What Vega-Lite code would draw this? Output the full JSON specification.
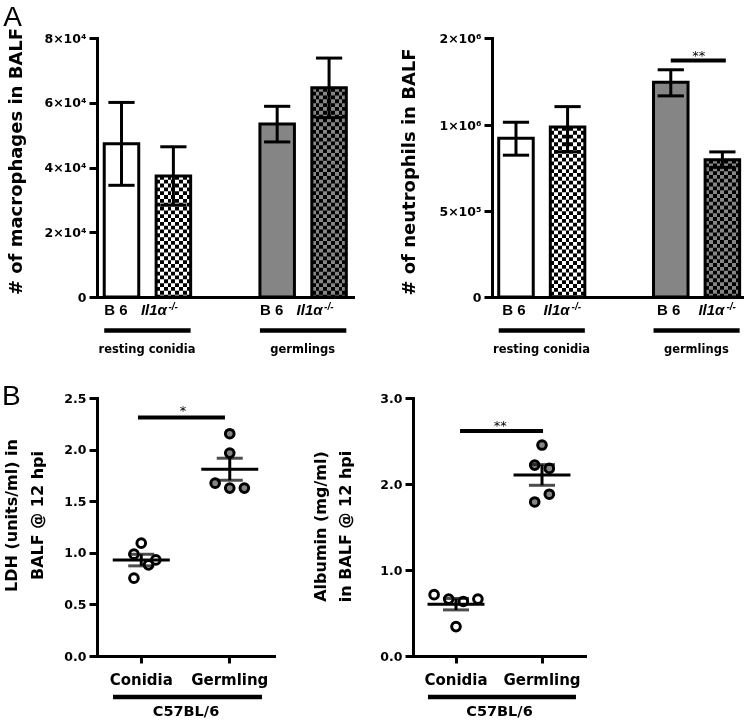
{
  "$schema": "https://vega.github.io/schema/vega-lite/v6.json",
  "autosize": {"type": "none"},
  "padding": {"left": 97, "top": 38, "right": 0, "bottom": 65},
  "width": 653,
  "height": 618,
  "background": "white",
  "config": {
    "view": {"stroke": null},
    "font": "DejaVu Sans",
    "axis": {"domainColor": "black", "domainWidth": 3, "domainCap": "square", "tickColor": "black", "tickWidth": 3, "tickSize": 8, "labelColor": "black", "labelFont": "DejaVu Sans", "labelFontWeight": "bold", "labelFontSize": 12.5, "labelPadding": 3, "labelOverlap": false, "titleColor": "black", "titleFont": "DejaVu Sans", "titleFontWeight": "bold", "grid": false}
  },
  "resolve": {"scale": {"x": "independent", "y": "independent", "xOffset": "independent"}, "axis": {"x": "independent", "y": "independent"}},
  "layer": [
    {
      "data": {"values": [
        {"bar": "rc-B6", "condition": "resting conidia", "genotype": "B6", "mean": 47300, "lo": 34500, "hi": 60100},
        {"bar": "rc-Il1a", "condition": "resting conidia", "genotype": "Il1α-/-", "mean": 37400, "lo": 28400, "hi": 46400},
        {"bar": "gm-B6", "condition": "germlings", "genotype": "B6", "mean": 53400, "lo": 47900, "hi": 58900},
        {"bar": "gm-Il1a", "condition": "germlings", "genotype": "Il1α-/-", "mean": 64600, "lo": 55400, "hi": 73800}
      ]},
      "layer": [
        {
          "mark": {"type": "rect", "strokeWidth": 0},
          "encoding": {
            "x": {"field": "bar", "type": "nominal", "bandPosition": 0, "scale": {"domain": ["rc-B6", "rc-Il1a", "gap", "gm-B6", "gm-Il1a"], "range": [0, 256], "paddingInner": 0.335, "paddingOuter": 0.134, "align": 0.52}, "axis": {"orient": "bottom", "offset": -359, "title": null, "labels": false, "ticks": false}},
            "x2": {"field": "bar", "bandPosition": 1},
            "y": {"field": "mean", "type": "quantitative", "scale": {"domain": [0, 80000], "range": [259, 0], "nice": false}, "axis": {"orient": "left", "values": [0, 20000, 40000, 60000, 80000], "labelExpr": "datum.value == 0 ? '0' : (datum.value / 10000) + '×10⁴'", "title": "# of macrophages in BALF", "titleFontSize": 18, "titleX": -72, "titleY": 123}},
            "y2": {"datum": 0},
            "color": {"condition": {"test": "datum.condition == 'germlings'", "value": "#858585"}, "value": "white"}
          }
        },
        {
          "transform": [{"filter": "datum.genotype != 'B6'"}],
          "mark": {"type": "rule", "strokeWidth": 34.5, "strokeDash": [3.83, 3.83], "strokeCap": "butt", "color": "black"},
          "encoding": {"x": {"field": "bar", "type": "nominal", "bandPosition": 0.5}, "y": {"field": "mean", "type": "quantitative", "title": "# of macrophages in BALF"}, "y2": {"datum": 0}}
        },
        {
          "transform": [{"filter": "datum.bar == 'rc-Il1a'"}],
          "mark": {"type": "rect", "blend": "difference", "strokeWidth": 0, "fill": {"gradient": "linear", "x1": 0, "y1": 0, "x2": 1, "y2": 0, "stops": [
            {"offset": 0, "color": "#ffffff"}, {"offset": 0.1111, "color": "#ffffff"}, {"offset": 0.1111, "color": "rgba(255,255,255,0)"}, {"offset": 0.2222, "color": "rgba(255,255,255,0)"},
            {"offset": 0.2222, "color": "#ffffff"}, {"offset": 0.3333, "color": "#ffffff"}, {"offset": 0.3333, "color": "rgba(255,255,255,0)"}, {"offset": 0.4444, "color": "rgba(255,255,255,0)"},
            {"offset": 0.4444, "color": "#ffffff"}, {"offset": 0.5556, "color": "#ffffff"}, {"offset": 0.5556, "color": "rgba(255,255,255,0)"}, {"offset": 0.6667, "color": "rgba(255,255,255,0)"},
            {"offset": 0.6667, "color": "#ffffff"}, {"offset": 0.7778, "color": "#ffffff"}, {"offset": 0.7778, "color": "rgba(255,255,255,0)"}, {"offset": 0.8889, "color": "rgba(255,255,255,0)"},
            {"offset": 0.8889, "color": "#ffffff"}, {"offset": 1, "color": "#ffffff"}]}},
          "encoding": {"x": {"field": "bar", "type": "nominal", "bandPosition": 0}, "x2": {"field": "bar", "bandPosition": 1}, "y": {"field": "mean", "type": "quantitative", "title": "# of macrophages in BALF"}, "y2": {"datum": 0}}
        },
        {
          "transform": [{"filter": "datum.bar == 'gm-Il1a'"}],
          "mark": {"type": "rect", "blend": "difference", "strokeWidth": 0, "fill": {"gradient": "linear", "x1": 0, "y1": 0, "x2": 1, "y2": 0, "stops": [
            {"offset": 0, "color": "#858585"}, {"offset": 0.1111, "color": "#858585"}, {"offset": 0.1111, "color": "rgba(133,133,133,0)"}, {"offset": 0.2222, "color": "rgba(133,133,133,0)"},
            {"offset": 0.2222, "color": "#858585"}, {"offset": 0.3333, "color": "#858585"}, {"offset": 0.3333, "color": "rgba(133,133,133,0)"}, {"offset": 0.4444, "color": "rgba(133,133,133,0)"},
            {"offset": 0.4444, "color": "#858585"}, {"offset": 0.5556, "color": "#858585"}, {"offset": 0.5556, "color": "rgba(133,133,133,0)"}, {"offset": 0.6667, "color": "rgba(133,133,133,0)"},
            {"offset": 0.6667, "color": "#858585"}, {"offset": 0.7778, "color": "#858585"}, {"offset": 0.7778, "color": "rgba(133,133,133,0)"}, {"offset": 0.8889, "color": "rgba(133,133,133,0)"},
            {"offset": 0.8889, "color": "#858585"}, {"offset": 1, "color": "#858585"}]}},
          "encoding": {"x": {"field": "bar", "type": "nominal", "bandPosition": 0}, "x2": {"field": "bar", "bandPosition": 1}, "y": {"field": "mean", "type": "quantitative", "title": "# of macrophages in BALF"}, "y2": {"datum": 0}}
        },
        {
          "mark": {"type": "rect", "fill": "transparent", "stroke": "black", "strokeWidth": 3},
          "encoding": {"x": {"field": "bar", "type": "nominal", "bandPosition": 0}, "x2": {"field": "bar", "bandPosition": 1}, "y": {"field": "mean", "type": "quantitative", "title": "# of macrophages in BALF"}, "y2": {"datum": 0}}
        },
        {
          "mark": {"type": "rule", "strokeWidth": 3, "color": "black"},
          "encoding": {"x": {"field": "bar", "type": "nominal", "bandPosition": 0.5}, "y": {"field": "lo", "type": "quantitative", "title": "# of macrophages in BALF"}, "y2": {"field": "hi"}}
        },
        {
          "mark": {"type": "rule", "strokeWidth": 3, "color": "black"},
          "encoding": {"x": {"field": "bar", "type": "nominal", "bandPosition": 0.12}, "x2": {"field": "bar", "bandPosition": 0.88}, "y": {"field": "hi", "type": "quantitative", "title": "# of macrophages in BALF"}}
        },
        {
          "mark": {"type": "rule", "strokeWidth": 3, "color": "black"},
          "encoding": {"x": {"field": "bar", "type": "nominal", "bandPosition": 0.12}, "x2": {"field": "bar", "bandPosition": 0.88}, "y": {"field": "lo", "type": "quantitative", "title": "# of macrophages in BALF"}}
        },
        {
          "transform": [{"filter": "datum.genotype == 'B6'"}],
          "mark": {"type": "text", "text": "B 6", "font": "Liberation Sans", "fontWeight": "bold", "fontSize": 15, "baseline": "alphabetic", "dy": 18, "dx": -5.5, "color": "black"},
          "encoding": {"x": {"field": "bar", "type": "nominal", "bandPosition": 0.5}, "y": {"datum": 0, "type": "quantitative"}}
        },
        {
          "transform": [{"filter": "datum.genotype != 'B6'"}],
          "mark": {"type": "text", "text": "Il1α", "font": "Liberation Sans", "fontWeight": "bold", "fontStyle": "italic", "fontSize": 15, "align": "right", "baseline": "alphabetic", "dy": 18, "dx": -6.5, "color": "black"},
          "encoding": {"x": {"field": "bar", "type": "nominal", "bandPosition": 0.5}, "y": {"datum": 0, "type": "quantitative"}}
        },
        {
          "transform": [{"filter": "datum.genotype != 'B6'"}],
          "mark": {"type": "text", "text": "-/-", "font": "Liberation Sans", "fontWeight": "bold", "fontStyle": "italic", "fontSize": 10, "align": "left", "baseline": "alphabetic", "dy": 12.5, "dx": -5, "color": "black"},
          "encoding": {"x": {"field": "bar", "type": "nominal", "bandPosition": 0.5}, "y": {"datum": 0, "type": "quantitative"}}
        },
        {
          "data": {"values": [
            {"condition": "resting conidia", "first": "rc-B6", "last": "rc-Il1a"},
            {"condition": "germlings", "first": "gm-B6", "last": "gm-Il1a"}
          ]},
          "layer": [
            {
              "mark": {"type": "rule", "strokeWidth": 4.5, "color": "black", "yOffset": 33.5},
              "encoding": {"x": {"field": "first", "type": "nominal", "bandPosition": 0}, "x2": {"field": "last", "bandPosition": 1}, "y": {"datum": 0, "type": "quantitative"}}
            },
            {
              "mark": {"type": "text", "fontWeight": "bold", "fontSize": 11.5, "baseline": "alphabetic", "dy": 56, "color": "black"},
              "encoding": {"text": {"field": "condition"}, "x": {"field": "first", "type": "nominal", "bandPosition": 1.24}, "y": {"datum": 0, "type": "quantitative"}}
            }
          ]
        },
        {
          "data": {"values": [{"panel": "A"}]},
          "mark": {"type": "text", "font": "Liberation Sans", "fontSize": 28, "align": "left", "baseline": "alphabetic", "dx": -101, "dy": -12, "color": "black"},
          "encoding": {"text": {"field": "panel"}, "x": {"datum": "rc-B6", "type": "nominal", "bandPosition": 0}, "y": {"datum": 80000, "type": "quantitative"}}
        }
      ]
    },
    {
      "data": {"values": [
        {"bar": "rc-B6", "condition": "resting conidia", "genotype": "B6", "mean": 924000, "lo": 826000, "hi": 1035000},
        {"bar": "rc-Il1a", "condition": "resting conidia", "genotype": "Il1α-/-", "mean": 990000, "lo": 846000, "hi": 1214000},
        {"bar": "gm-B6", "condition": "germlings", "genotype": "B6", "mean": 1494000, "lo": 1337000, "hi": 1636000},
        {"bar": "gm-Il1a", "condition": "germlings", "genotype": "Il1α-/-", "mean": 800000, "lo": 755000, "hi": 845000}
      ]},
      "layer": [
        {
          "mark": {"type": "rect", "strokeWidth": 0},
          "encoding": {
            "x": {"field": "bar", "type": "nominal", "bandPosition": 0, "scale": {"domain": ["rc-B6", "rc-Il1a", "gap", "gm-B6", "gm-Il1a"], "range": [395, 645], "paddingInner": 0.331, "paddingOuter": 0.088, "align": 0.74}, "axis": {"orient": "bottom", "offset": -359, "title": null, "labels": false, "ticks": false}},
            "x2": {"field": "bar", "bandPosition": 1},
            "y": {"field": "mean", "type": "quantitative", "scale": {"domain": [0, 1000000, 2000000], "range": [259, 87.3, 0], "nice": false, "zero": false}, "axis": {"orient": "left", "offset": -395, "values": [0, 500000, 1000000, 2000000], "labelExpr": "datum.value == 0 ? '0' : datum.value < 1000000 ? (datum.value / 100000) + '×10⁵' : (datum.value / 1000000) + '×10⁶'", "title": "# of neutrophils in BALF", "titleFontSize": 18, "titleX": -74, "titleY": 133.5}},
            "y2": {"datum": 0},
            "color": {"condition": {"test": "datum.condition == 'germlings'", "value": "#858585"}, "value": "white"}
          }
        },
        {
          "transform": [{"filter": "datum.genotype != 'B6'"}],
          "mark": {"type": "rule", "strokeWidth": 34.5, "strokeDash": [3.83, 3.83], "strokeCap": "butt", "color": "black"},
          "encoding": {"x": {"field": "bar", "type": "nominal", "bandPosition": 0.5}, "y": {"field": "mean", "type": "quantitative", "title": "# of neutrophils in BALF"}, "y2": {"datum": 0}}
        },
        {
          "transform": [{"filter": "datum.bar == 'rc-Il1a'"}],
          "mark": {"type": "rect", "blend": "difference", "strokeWidth": 0, "fill": {"gradient": "linear", "x1": 0, "y1": 0, "x2": 1, "y2": 0, "stops": [
            {"offset": 0, "color": "#ffffff"}, {"offset": 0.1111, "color": "#ffffff"}, {"offset": 0.1111, "color": "rgba(255,255,255,0)"}, {"offset": 0.2222, "color": "rgba(255,255,255,0)"},
            {"offset": 0.2222, "color": "#ffffff"}, {"offset": 0.3333, "color": "#ffffff"}, {"offset": 0.3333, "color": "rgba(255,255,255,0)"}, {"offset": 0.4444, "color": "rgba(255,255,255,0)"},
            {"offset": 0.4444, "color": "#ffffff"}, {"offset": 0.5556, "color": "#ffffff"}, {"offset": 0.5556, "color": "rgba(255,255,255,0)"}, {"offset": 0.6667, "color": "rgba(255,255,255,0)"},
            {"offset": 0.6667, "color": "#ffffff"}, {"offset": 0.7778, "color": "#ffffff"}, {"offset": 0.7778, "color": "rgba(255,255,255,0)"}, {"offset": 0.8889, "color": "rgba(255,255,255,0)"},
            {"offset": 0.8889, "color": "#ffffff"}, {"offset": 1, "color": "#ffffff"}]}},
          "encoding": {"x": {"field": "bar", "type": "nominal", "bandPosition": 0}, "x2": {"field": "bar", "bandPosition": 1}, "y": {"field": "mean", "type": "quantitative", "title": "# of neutrophils in BALF"}, "y2": {"datum": 0}}
        },
        {
          "transform": [{"filter": "datum.bar == 'gm-Il1a'"}],
          "mark": {"type": "rect", "blend": "difference", "strokeWidth": 0, "fill": {"gradient": "linear", "x1": 0, "y1": 0, "x2": 1, "y2": 0, "stops": [
            {"offset": 0, "color": "#858585"}, {"offset": 0.1111, "color": "#858585"}, {"offset": 0.1111, "color": "rgba(133,133,133,0)"}, {"offset": 0.2222, "color": "rgba(133,133,133,0)"},
            {"offset": 0.2222, "color": "#858585"}, {"offset": 0.3333, "color": "#858585"}, {"offset": 0.3333, "color": "rgba(133,133,133,0)"}, {"offset": 0.4444, "color": "rgba(133,133,133,0)"},
            {"offset": 0.4444, "color": "#858585"}, {"offset": 0.5556, "color": "#858585"}, {"offset": 0.5556, "color": "rgba(133,133,133,0)"}, {"offset": 0.6667, "color": "rgba(133,133,133,0)"},
            {"offset": 0.6667, "color": "#858585"}, {"offset": 0.7778, "color": "#858585"}, {"offset": 0.7778, "color": "rgba(133,133,133,0)"}, {"offset": 0.8889, "color": "rgba(133,133,133,0)"},
            {"offset": 0.8889, "color": "#858585"}, {"offset": 1, "color": "#858585"}]}},
          "encoding": {"x": {"field": "bar", "type": "nominal", "bandPosition": 0}, "x2": {"field": "bar", "bandPosition": 1}, "y": {"field": "mean", "type": "quantitative", "title": "# of neutrophils in BALF"}, "y2": {"datum": 0}}
        },
        {
          "mark": {"type": "rect", "fill": "transparent", "stroke": "black", "strokeWidth": 3},
          "encoding": {"x": {"field": "bar", "type": "nominal", "bandPosition": 0}, "x2": {"field": "bar", "bandPosition": 1}, "y": {"field": "mean", "type": "quantitative", "title": "# of neutrophils in BALF"}, "y2": {"datum": 0}}
        },
        {
          "mark": {"type": "rule", "strokeWidth": 3, "color": "black"},
          "encoding": {"x": {"field": "bar", "type": "nominal", "bandPosition": 0.5}, "y": {"field": "lo", "type": "quantitative", "title": "# of neutrophils in BALF"}, "y2": {"field": "hi"}}
        },
        {
          "mark": {"type": "rule", "strokeWidth": 3, "color": "black"},
          "encoding": {"x": {"field": "bar", "type": "nominal", "bandPosition": 0.12}, "x2": {"field": "bar", "bandPosition": 0.88}, "y": {"field": "hi", "type": "quantitative", "title": "# of neutrophils in BALF"}}
        },
        {
          "mark": {"type": "rule", "strokeWidth": 3, "color": "black"},
          "encoding": {"x": {"field": "bar", "type": "nominal", "bandPosition": 0.12}, "x2": {"field": "bar", "bandPosition": 0.88}, "y": {"field": "lo", "type": "quantitative", "title": "# of neutrophils in BALF"}}
        },
        {
          "transform": [{"filter": "datum.genotype == 'B6'"}],
          "mark": {"type": "text", "text": "B 6", "font": "Liberation Sans", "fontWeight": "bold", "fontSize": 15, "baseline": "alphabetic", "dy": 18, "dx": -2, "color": "black"},
          "encoding": {"x": {"field": "bar", "type": "nominal", "bandPosition": 0.5}, "y": {"datum": 0, "type": "quantitative"}}
        },
        {
          "transform": [{"filter": "datum.genotype != 'B6'"}],
          "mark": {"type": "text", "text": "Il1α", "font": "Liberation Sans", "fontWeight": "bold", "fontStyle": "italic", "fontSize": 15, "align": "right", "baseline": "alphabetic", "dy": 18, "dx": 2, "color": "black"},
          "encoding": {"x": {"field": "bar", "type": "nominal", "bandPosition": 0.5}, "y": {"datum": 0, "type": "quantitative"}}
        },
        {
          "transform": [{"filter": "datum.genotype != 'B6'"}],
          "mark": {"type": "text", "text": "-/-", "font": "Liberation Sans", "fontWeight": "bold", "fontStyle": "italic", "fontSize": 10, "align": "left", "baseline": "alphabetic", "dy": 12.5, "dx": 4, "color": "black"},
          "encoding": {"x": {"field": "bar", "type": "nominal", "bandPosition": 0.5}, "y": {"datum": 0, "type": "quantitative"}}
        },
        {
          "data": {"values": [
            {"condition": "resting conidia", "first": "rc-B6", "last": "rc-Il1a"},
            {"condition": "germlings", "first": "gm-B6", "last": "gm-Il1a"}
          ]},
          "layer": [
            {
              "mark": {"type": "rule", "strokeWidth": 4.5, "color": "black", "yOffset": 33.5},
              "encoding": {"x": {"field": "first", "type": "nominal", "bandPosition": 0}, "x2": {"field": "last", "bandPosition": 1}, "y": {"datum": 0, "type": "quantitative"}}
            },
            {
              "mark": {"type": "text", "fontWeight": "bold", "fontSize": 11.5, "baseline": "alphabetic", "dy": 56, "color": "black"},
              "encoding": {"text": {"field": "condition"}, "x": {"field": "first", "type": "nominal", "bandPosition": 1.24}, "y": {"datum": 0, "type": "quantitative"}}
            }
          ]
        },
        {
          "data": {"values": [{"from": "gm-B6", "to": "gm-Il1a", "label": "**"}]},
          "layer": [
            {
              "mark": {"type": "rule", "strokeWidth": 4, "color": "black"},
              "encoding": {"x": {"field": "from", "type": "nominal", "bandPosition": 0.5}, "x2": {"field": "to", "bandPosition": 0.6}, "y": {"datum": 1743000, "type": "quantitative"}}
            },
            {
              "mark": {"type": "text", "fontSize": 13, "baseline": "alphabetic", "dy": 0, "color": "black"},
              "encoding": {"text": {"field": "label"}, "x": {"field": "from", "type": "nominal", "bandPosition": 1.31}, "y": {"datum": 1743000, "type": "quantitative"}}
            }
          ]
        }
      ]
    },
    {
      "data": {"values": [
        {"group": "Conidia", "value": 1.093, "slot": 0},
        {"group": "Conidia", "value": 0.987, "slot": -1},
        {"group": "Conidia", "value": 0.931, "slot": 2},
        {"group": "Conidia", "value": 0.883, "slot": 1},
        {"group": "Conidia", "value": 0.754, "slot": -1},
        {"group": "Germling", "value": 2.154, "slot": 0},
        {"group": "Germling", "value": 1.966, "slot": 0},
        {"group": "Germling", "value": 1.675, "slot": -2},
        {"group": "Germling", "value": 1.627, "slot": 0},
        {"group": "Germling", "value": 1.627, "slot": 2}
      ]},
      "layer": [
        {
          "mark": {"type": "point", "shape": "circle", "filled": true, "size": 75, "stroke": "black", "strokeWidth": 3, "opacity": 1},
          "encoding": {
            "x": {"field": "group", "type": "nominal", "scale": {"domain": ["Conidia", "Germling"], "range": [0, 177], "paddingInner": 0, "paddingOuter": 0}, "axis": {"orient": "bottom", "offset": 0, "title": "C57BL/6", "labelAngle": 0, "labelFontSize": 15, "titleFontSize": 14.5, "tickSize": 7, "labelPadding": 9, "titlePadding": 17}},
            "xOffset": {"field": "slot", "type": "quantitative", "scale": {"domain": [-3, 3], "range": [22.35, 66.15]}},
            "y": {"field": "value", "type": "quantitative", "scale": {"domain": [0, 2.5], "range": [618, 360], "nice": false}, "axis": {"orient": "left", "offset": 0, "values": [0, 0.5, 1, 1.5, 2, 2.5], "format": ".1f", "title": ["LDH (units/ml) in", "BALF @ 12 hpi"], "titleFontSize": 16, "titleLineHeight": 26, "titleX": -78, "titleY": 477}},
            "fill": {"condition": {"test": "datum.group == 'Germling'", "value": "#858585"}, "value": "white"}
          }
        },
        {
          "mark": {"type": "rule", "strokeWidth": 3, "color": "black"},
          "encoding": {"x": {"field": "group", "type": "nominal", "bandPosition": 0.178}, "x2": {"field": "group", "bandPosition": 0.822}, "y": {"aggregate": "mean", "field": "value", "type": "quantitative", "title": ["LDH (units/ml) in", "BALF @ 12 hpi"]}}
        },
        {
          "mark": {"type": "errorbar", "extent": "stderr", "thickness": 3, "color": "black", "ticks": {"size": 26, "thickness": 3, "color": "black"}},
          "encoding": {"x": {"field": "group", "type": "nominal"}, "y": {"field": "value", "type": "quantitative", "title": ["LDH (units/ml) in", "BALF @ 12 hpi"]}}
        },
        {
          "data": {"values": [{"from": "Conidia", "to": "Germling", "label": "*"}]},
          "layer": [
            {
              "mark": {"type": "rule", "strokeWidth": 4.5, "color": "black", "yOffset": 41},
              "encoding": {"x": {"field": "from", "type": "nominal", "bandPosition": 0.181}, "x2": {"field": "to", "bandPosition": 0.864}, "y": {"datum": 0, "type": "quantitative"}}
            },
            {
              "mark": {"type": "rule", "strokeWidth": 4, "color": "black"},
              "encoding": {"x": {"field": "from", "type": "nominal", "bandPosition": 0.463}, "x2": {"field": "to", "bandPosition": 0.446}, "y": {"datum": 2.31, "type": "quantitative"}}
            },
            {
              "mark": {"type": "text", "fontSize": 13, "baseline": "alphabetic", "dy": -3, "color": "black"},
              "encoding": {"text": {"field": "label"}, "x": {"field": "from", "type": "nominal", "bandPosition": 0.972}, "y": {"datum": 2.31, "type": "quantitative"}}
            }
          ]
        },
        {
          "data": {"values": [{"panel": "B"}]},
          "mark": {"type": "text", "font": "Liberation Sans", "fontSize": 28, "align": "left", "baseline": "alphabetic", "dx": -95, "dy": 7, "color": "black"},
          "encoding": {"text": {"field": "panel"}, "x": {"datum": "Conidia", "type": "nominal", "bandPosition": 0}, "y": {"datum": 2.5, "type": "quantitative"}}
        }
      ]
    },
    {
      "data": {"values": [
        {"group": "Conidia", "value": 0.713, "slot": -3},
        {"group": "Conidia", "value": 0.662, "slot": -1},
        {"group": "Conidia", "value": 0.634, "slot": 1},
        {"group": "Conidia", "value": 0.662, "slot": 3},
        {"group": "Conidia", "value": 0.342, "slot": 0},
        {"group": "Germling", "value": 2.453, "slot": 0},
        {"group": "Germling", "value": 2.22, "slot": -1},
        {"group": "Germling", "value": 2.181, "slot": 1},
        {"group": "Germling", "value": 1.881, "slot": 1},
        {"group": "Germling", "value": 1.791, "slot": -1}
      ]},
      "layer": [
        {
          "mark": {"type": "point", "shape": "circle", "filled": true, "size": 75, "stroke": "black", "strokeWidth": 3, "opacity": 1},
          "encoding": {
            "x": {"field": "group", "type": "nominal", "scale": {"domain": ["Conidia", "Germling"], "range": [316, 488], "paddingInner": 0, "paddingOuter": 0}, "axis": {"orient": "bottom", "offset": 0, "title": "C57BL/6", "labelAngle": 0, "labelFontSize": 15, "titleFontSize": 14.5, "tickSize": 7, "labelPadding": 9, "titlePadding": 17}},
            "xOffset": {"field": "slot", "type": "quantitative", "scale": {"domain": [-3, 3], "range": [21.1, 64.9]}},
            "y": {"field": "value", "type": "quantitative", "scale": {"domain": [0, 3], "range": [618, 360], "nice": false}, "axis": {"orient": "left", "offset": -316, "values": [0, 1, 2, 3], "format": ".1f", "title": ["Albumin (mg/ml)", "in BALF @ 12 hpi"], "titleFontSize": 16, "titleLineHeight": 25, "titleX": -85, "titleY": 488}},
            "fill": {"condition": {"test": "datum.group == 'Germling'", "value": "#858585"}, "value": "white"}
          }
        },
        {
          "mark": {"type": "rule", "strokeWidth": 3, "color": "black"},
          "encoding": {"x": {"field": "group", "type": "nominal", "bandPosition": 0.169}, "x2": {"field": "group", "bandPosition": 0.831}, "y": {"aggregate": "mean", "field": "value", "type": "quantitative", "title": ["Albumin (mg/ml)", "in BALF @ 12 hpi"]}}
        },
        {
          "mark": {"type": "errorbar", "extent": "stderr", "thickness": 3, "color": "black", "ticks": {"size": 26, "thickness": 3, "color": "black"}},
          "encoding": {"x": {"field": "group", "type": "nominal"}, "y": {"field": "value", "type": "quantitative", "title": ["Albumin (mg/ml)", "in BALF @ 12 hpi"]}}
        },
        {
          "data": {"values": [{"from": "Conidia", "to": "Germling", "label": "**"}]},
          "layer": [
            {
              "mark": {"type": "rule", "strokeWidth": 4.5, "color": "black", "yOffset": 41},
              "encoding": {"x": {"field": "from", "type": "nominal", "bandPosition": 0.174}, "x2": {"field": "to", "bandPosition": 0.895}, "y": {"datum": 0, "type": "quantitative"}}
            },
            {
              "mark": {"type": "rule", "strokeWidth": 4, "color": "black"},
              "encoding": {"x": {"field": "from", "type": "nominal", "bandPosition": 0.547}, "x2": {"field": "to", "bandPosition": 0.512}, "y": {"datum": 2.617, "type": "quantitative"}}
            },
            {
              "mark": {"type": "text", "fontSize": 13, "baseline": "alphabetic", "dy": -1.3, "color": "black"},
              "encoding": {"text": {"field": "label"}, "x": {"field": "from", "type": "nominal", "bandPosition": 1.015}, "y": {"datum": 2.617, "type": "quantitative"}}
            }
          ]
        }
      ]
    }
  ]
}
